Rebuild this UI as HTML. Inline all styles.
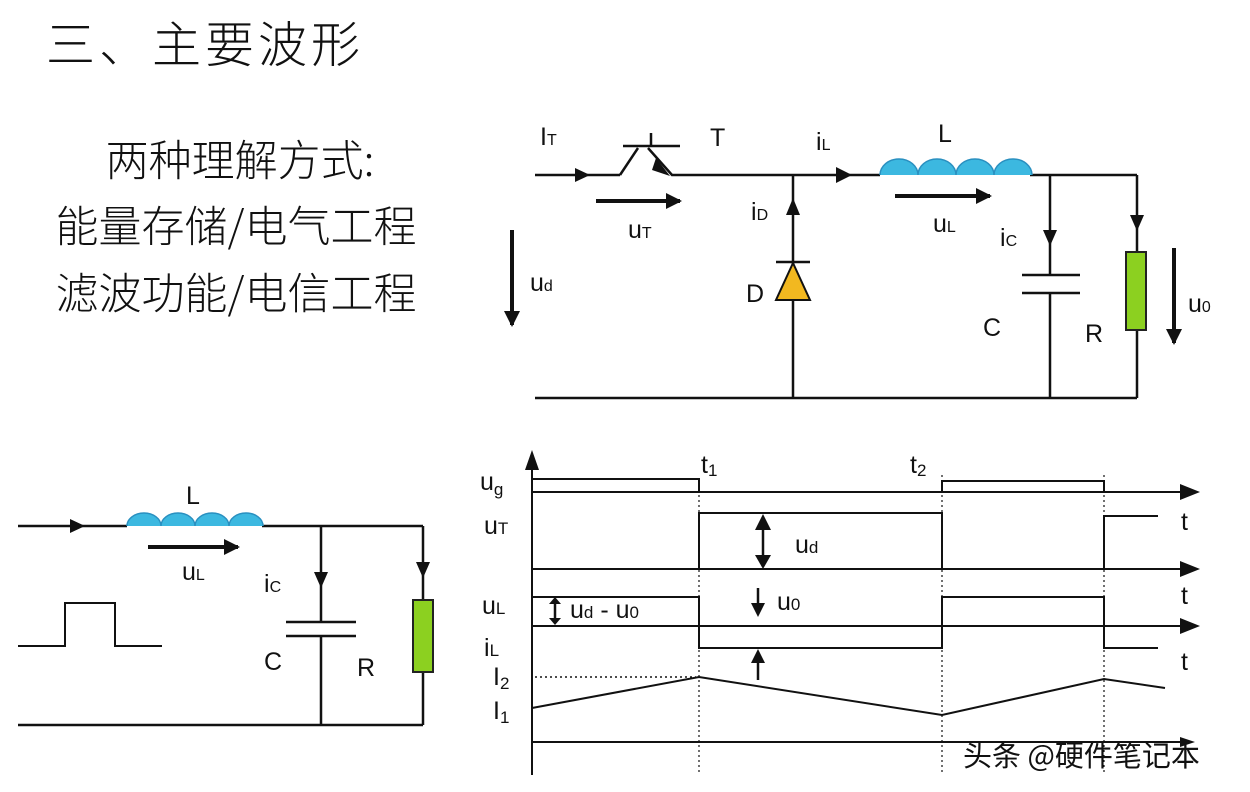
<!DOCTYPE html>
<html><head><meta charset="utf-8"><style>
html,body{margin:0;padding:0;background:#fff}
svg{display:block}
text{font-family:"Liberation Sans","Noto Sans CJK SC",sans-serif;fill:#111}
.cjk{font-family:"Noto Sans CJK SC","WenQuanYi Zen Hei",sans-serif}
</style></head><body>
<svg width="1250" height="792" viewBox="0 0 1250 792">
<defs>
<marker id="big" markerWidth="16" markerHeight="16" refX="14" refY="8" orient="auto" markerUnits="userSpaceOnUse"><path d="M0,0 L16,8 L0,16z" fill="#111"/></marker>
</defs>
<text x="46" y="62" font-size="49" letter-spacing="4" class="cjk" font-weight="300">三、主要波形</text>
<text x="240" y="176" font-size="43" text-anchor="middle" class="cjk" font-weight="300">两种理解方式:</text>
<text x="236" y="242" font-size="43" text-anchor="middle" class="cjk" font-weight="300">能量存储/电气工程</text>
<text x="236" y="309" font-size="43" text-anchor="middle" class="cjk" font-weight="300">滤波功能/电信工程</text>

<!-- top circuit -->
<g stroke="#111" stroke-width="2.5" fill="none">
<line x1="535" y1="175" x2="620" y2="175"/>
<path d="M620,175 L638,148 M648,148 L672,175 L880,175"/>
<line x1="623" y1="146" x2="680" y2="146"/>
<line x1="651" y1="133" x2="651" y2="146"/>
<line x1="1030" y1="175" x2="1137" y2="175"/>
<line x1="535" y1="398" x2="1137" y2="398"/>
<line x1="793" y1="175" x2="793" y2="398"/>
<line x1="1050" y1="175" x2="1050" y2="275"/>
<line x1="1050" y1="293" x2="1050" y2="398"/>
<line x1="1022" y1="275" x2="1080" y2="275"/>
<line x1="1022" y1="293" x2="1080" y2="293"/>
<line x1="1137" y1="175" x2="1137" y2="252"/>
<line x1="1137" y1="330" x2="1137" y2="398"/>
<line x1="776" y1="262" x2="810" y2="262"/>
</g>
<path d="M793,263 L776,300 L810,300z" fill="#f2b820" stroke="#111" stroke-width="2"/>
<path d="M880,175 a19,16 0 0 1 38,0 a19,16 0 0 1 38,0 a19,16 0 0 1 38,0 a19,16 0 0 1 38,0" fill="#3cb8e0" stroke="#2a90c0" stroke-width="1.5"/>
<rect x="1126" y="252" width="20" height="78" fill="#8cd020" stroke="#222" stroke-width="2"/>
<g fill="#111">
<path d="M575,168 L590,175 L575,182z"/>
<path d="M836,167 L852,175 L836,183z"/>
<path d="M786,215 L793,198 L800,215z"/>
<path d="M1043,230 L1050,246 L1057,230z"/>
<path d="M1130,215 L1137,231 L1144,215z"/>
<path d="M656,158 L670,176 L652,170z"/>
</g>
<g stroke="#111" stroke-width="4" fill="none">
<line x1="596" y1="201" x2="680" y2="201" marker-end="url(#big)"/>
<line x1="895" y1="196" x2="990" y2="196" marker-end="url(#big)"/>
<line x1="512" y1="230" x2="512" y2="325" marker-end="url(#big)"/>
<line x1="1174" y1="248" x2="1174" y2="343" marker-end="url(#big)"/>
</g>
<g font-size="25">
<text x="540" y="145">I<tspan font-size="16">T</tspan></text>
<text x="710" y="146">T</text>
<text x="816" y="150">i<tspan font-size="16">L</tspan></text>
<text x="938" y="142">L</text>
<text x="628" y="238">u<tspan font-size="16">T</tspan></text>
<text x="751" y="220">i<tspan font-size="16">D</tspan></text>
<text x="933" y="232">u<tspan font-size="16">L</tspan></text>
<text x="1000" y="246">i<tspan font-size="16">C</tspan></text>
<text x="530" y="291">u<tspan font-size="16">d</tspan></text>
<text x="746" y="302">D</text>
<text x="983" y="336">C</text>
<text x="1085" y="342">R</text>
<text x="1188" y="312">u<tspan font-size="16">0</tspan></text>
</g>

<!-- left lower circuit -->
<g stroke="#111" stroke-width="2.5" fill="none">
<line x1="18" y1="526" x2="127" y2="526"/>
<line x1="262" y1="526" x2="423" y2="526"/>
<line x1="18" y1="725" x2="423" y2="725"/>
<line x1="321" y1="526" x2="321" y2="622"/>
<line x1="321" y1="636" x2="321" y2="725"/>
<line x1="286" y1="622" x2="356" y2="622"/>
<line x1="286" y1="636" x2="356" y2="636"/>
<line x1="423" y1="526" x2="423" y2="600"/>
<line x1="423" y1="672" x2="423" y2="725"/>
<path d="M18,646 L65,646 L65,603 L115,603 L115,646 L162,646" stroke-width="2"/>
</g>
<path d="M127,526 a17,13 0 0 1 34,0 a17,13 0 0 1 34,0 a17,13 0 0 1 34,0 a17,13 0 0 1 34,0" fill="#3cb8e0" stroke="#2a90c0" stroke-width="1.5"/>
<rect x="413" y="600" width="20" height="72" fill="#8cd020" stroke="#222" stroke-width="2"/>
<g fill="#111">
<path d="M70,519 L85,526 L70,533z"/>
<path d="M314,572 L321,588 L328,572z"/>
<path d="M416,562 L423,578 L430,562z"/>
</g>
<line x1="148" y1="547" x2="238" y2="547" stroke="#111" stroke-width="4" marker-end="url(#big)"/>
<g font-size="25">
<text x="186" y="504">L</text>
<text x="182" y="580">u<tspan font-size="16">L</tspan></text>
<text x="264" y="592">i<tspan font-size="16">C</tspan></text>
<text x="264" y="670">C</text>
<text x="357" y="676">R</text>
</g>

<!-- waveforms -->
<g stroke="#111" stroke-width="2" fill="none">
<line x1="532" y1="775" x2="532" y2="460"/>
<line x1="532" y1="492" x2="1185" y2="492"/>
<line x1="532" y1="569" x2="1185" y2="569"/>
<line x1="532" y1="626" x2="1185" y2="626"/>
<line x1="532" y1="742" x2="1185" y2="742"/>
<path d="M532,479 L699,479 L699,492 M942,492 L942,481 L1104,481 L1104,492"/>
<path d="M532,569 L699,569 L699,513 L942,513 L942,569 L1104,569 L1104,516 L1158,516"/>
<path d="M532,597 L699,597 L699,648 L942,648 L942,597 L1104,597 L1104,648 L1158,648"/>
<path d="M532,708 L699,677 L942,715 L1104,679 L1165,688"/>
<path d="M535,677 L696,677" stroke-dasharray="2,3" stroke-width="1.5"/>
<g stroke-dasharray="2,3" stroke-width="1.2">
<line x1="699" y1="480" x2="699" y2="775"/>
<line x1="942" y1="475" x2="942" y2="775"/>
<line x1="1104" y1="475" x2="1104" y2="775"/>
</g>
<line x1="763" y1="520" x2="763" y2="565" stroke-width="2.5"/>
<line x1="555" y1="600" x2="555" y2="622" stroke-width="2.5"/>
<line x1="758" y1="588" x2="758" y2="610" stroke-width="2.5"/>
<line x1="758" y1="660" x2="758" y2="680" stroke-width="2.5"/>
</g>
<g fill="#111">
<path d="M525,470 L532,450 L539,470z"/>
<path d="M1180,484 L1200,492 L1180,500z"/>
<path d="M1180,561 L1200,569 L1180,577z"/>
<path d="M1180,618 L1200,626 L1180,634z"/>
<path d="M1180,737 L1195,742 L1180,747z"/>
<path d="M755,530 L763,514 L771,530z"/>
<path d="M755,555 L763,569 L771,555z"/>
<path d="M549,604 L555,597 L561,604z"/>
<path d="M549,618 L555,625 L561,618z"/>
<path d="M751,603 L758,617 L765,603z"/>
<path d="M751,663 L758,649 L765,663z"/>
</g>
<g font-size="25">
<text x="480" y="490">u<tspan font-size="17" dy="5">g</tspan></text>
<text x="484" y="534">u<tspan font-size="17">T</tspan></text>
<text x="482" y="614">u<tspan font-size="17">L</tspan></text>
<text x="484" y="656">i<tspan font-size="17">L</tspan></text>
<text x="493" y="685">I<tspan font-size="17" dy="4">2</tspan></text>
<text x="493" y="719">I<tspan font-size="17" dy="4">1</tspan></text>
<text x="701" y="473">t<tspan font-size="17" dy="3">1</tspan></text>
<text x="910" y="473">t<tspan font-size="17" dy="3">2</tspan></text>
<text x="795" y="553">u<tspan font-size="17">d</tspan></text>
<text x="570" y="618">u<tspan font-size="17">d</tspan> - u<tspan font-size="17">0</tspan></text>
<text x="777" y="610">u<tspan font-size="17">0</tspan></text>
<text x="1181" y="530">t</text>
<text x="1181" y="604">t</text>
<text x="1181" y="670">t</text>
</g>
<text x="963" y="766" font-size="29" class="cjk" fill="#222">头条 @硬件笔记本</text>
</svg>
</body></html>
